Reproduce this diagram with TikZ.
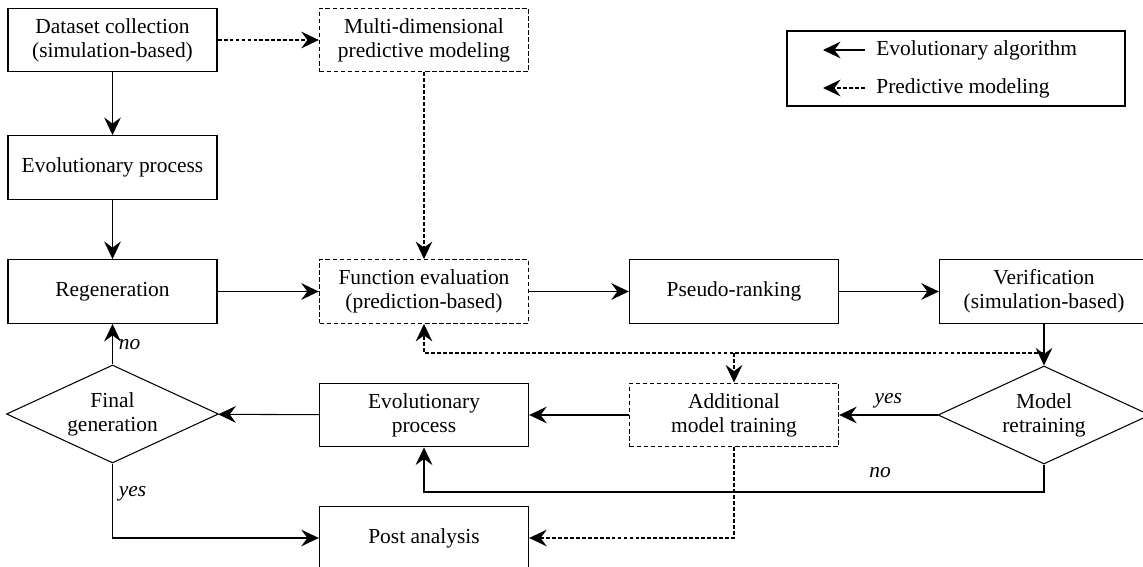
\documentclass[tikz,border=0pt]{standalone}
\usepackage{fontspec}
\setmainfont{Liberation Serif}
\usetikzlibrary{arrows.meta,shapes.geometric,positioning}

\begin{document}
\begin{tikzpicture}[x=0.02cm, y=-0.02cm, font=\rmfamily\fontsize{12.2}{13.7}\selectfont,
    caixa/.style={draw, line width=0.8pt, minimum width=4.18cm, minimum height=1.27cm, align=center, inner sep=1pt},
    caixapred/.style={caixa, dash pattern=on 2.6pt off 1.4pt},
    losango/.style={draw, diamond, aspect=2.16, line width=0.6pt, minimum width=4.24cm, minimum height=1.96cm, inner sep=0pt, align=center},
    seta/.style={-{Stealth[length=10pt,width=9.5pt,inset=3.5pt]}, line width=0.6pt},
    setapred/.style={seta, dash pattern=on 2.2pt off 1.2pt},
    rotulo/.style={font=\rmfamily\fontsize{12.2}{13.7}\selectfont\itshape}]

    \useasboundingbox (0,0) rectangle (1143,567);

    % caixas
    \node[caixa] (dados) at (112.5,40) {Dataset collection\\(simulation-based)};
    \node[caixapred] (multi) at (424,40) {Multi-dimensional\\predictive modeling};
    \node[caixa] (evo1) at (112.5,167.5) {Evolutionary process};
    \node[caixa] (regen) at (112.5,291.5) {Regeneration};
    \node[caixapred] (funcao) at (424,291.5) {Function evaluation\\(prediction-based)};
    \node[caixa] (pseudo) at (734,291.5) {Pseudo-ranking};
    \node[caixa] (verif) at (1044,291.5) {Verification\\(simulation-based)};
    \node[losango] (retr) at (1044,415) {Model\\retraining};
    \node[caixapred] (adic) at (734,415) {Additional\\model training};
    \node[caixa] (evo2) at (424,415) {Evolutionary\\process};
    \node[losango] (final) at (112.5,414) {Final\\generation};
    \node[caixa] (post) at (424,538) {Post analysis};

    % legenda
    \node[draw, line width=1pt, minimum width=6.76cm, minimum height=1.5cm] (legenda) at (956,68.5) {};
    \coordinate (l1a) at (865,50); \coordinate (l1b) at (823,50);
    \coordinate (l2a) at (865,88); \coordinate (l2b) at (823,88);
    \draw[seta] (l1a) -- (l1b);
    \draw[setapred] (l2a) -- (l2b);
    \node[anchor=west, inner sep=0pt] (l1t) at (876,50) {Evolutionary algorithm};
    \node[anchor=west, inner sep=0pt] (l2t) at (876,88) {Predictive modeling};

    % setas de cima
    \draw[setapred] (dados) -- (multi);
    \draw[seta] (dados) -- (evo1);
    \draw[seta] (evo1) -- (regen);
    \draw[setapred] (multi) -- (funcao);
    \draw[seta] (regen) -- (funcao);
    \draw[seta] (funcao) -- (pseudo);
    \draw[seta] (pseudo) -- (verif);
    \draw[seta] (verif) -- (retr);

    % retreino do modelo
    \coordinate (juncao) at (1044,353);
    \draw[setapred] (juncao) -| (funcao.south);
    \draw[setapred] (juncao -| adic.north) -- (adic.north);
    \draw[seta] (retr) -- node[rotulo, above] {yes} (adic);
    \coordinate (desvio) at (1044,492);
    \draw[seta] (retr.south) -- (desvio) -| (evo2.south);
    \node[rotulo] (nao1) at (880,473) {no};

    % setas de baixo
    \draw[seta] (adic) -- (evo2);
    \draw[seta] (evo2) -- (final);
    \draw[seta] (final.north) -- node[rotulo, right] {no} (regen.south);
    \draw[seta] (final.south) |- node[rotulo, pos=0.2, right] {yes} (post.west);
    \draw[setapred] (adic.south) |- (post.east);
\end{tikzpicture}
\end{document}
